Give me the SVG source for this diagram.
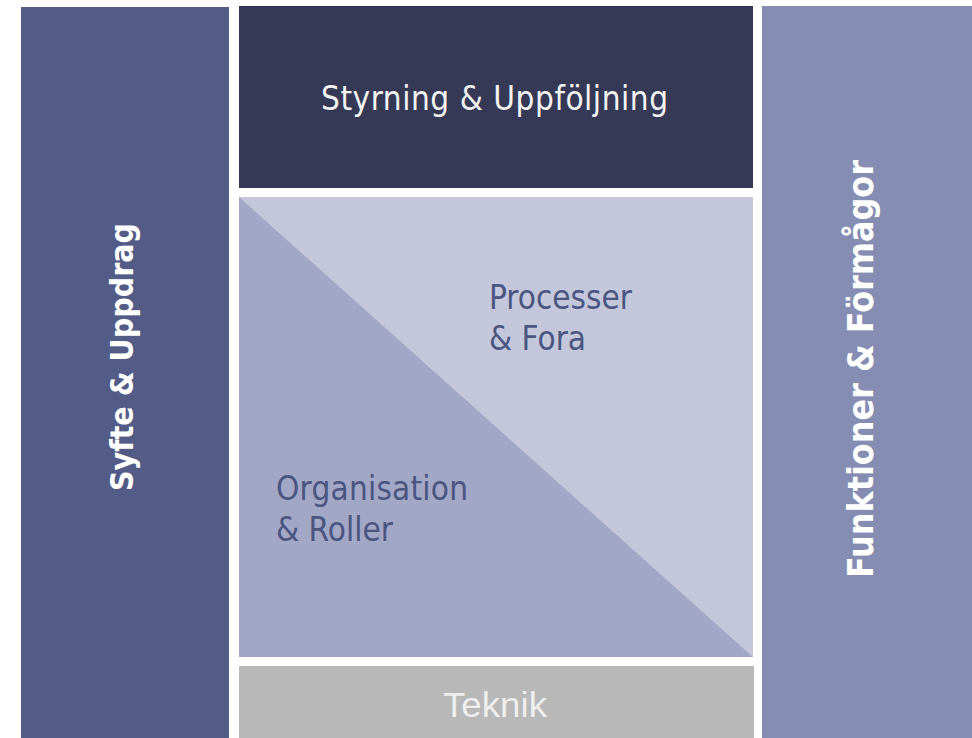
<svg xmlns="http://www.w3.org/2000/svg" width="972" height="738" viewBox="0 0 972 738">
<style>
.lbl{font-family:"DejaVu Sans Condensed","DejaVu Sans",sans-serif;font-size:33px}
.mid{fill:#4A5580}
.light{fill:#F2F2F2}
.vert{font-family:"DejaVu Sans Condensed","DejaVu Sans",sans-serif;font-weight:bold;fill:#FFFFFF}
</style>
<rect width="972" height="738" fill="#FFFFFF"/>
<g id="syfte">
<rect x="21" y="7" width="208" height="731" fill="#535C86"/>
<text class="vert" font-size="32" x="-491" y="133" transform="rotate(-90)" textLength="268" lengthAdjust="spacingAndGlyphs">Syfte &amp; Uppdrag</text>
</g>
<g id="styrning">
<rect x="239" y="6" width="514" height="182" fill="#353955"/>
<text class="lbl light" x="321" y="110" textLength="347" lengthAdjust="spacing">Styrning &amp; Uppföljning</text>
</g>
<g id="mitt">
<rect x="239" y="197" width="514" height="460" fill="#C4C7DB"/>
<polygon points="239,197 753,657 239,657" fill="#A3A7C6"/>
</g>
<g id="processer">
<text class="lbl mid" x="489" y="309">Processer</text>
<text class="lbl mid" x="489" y="350">&amp; Fora</text>
</g>
<g id="organisation">
<text class="lbl mid" x="276" y="500" textLength="192" lengthAdjust="spacing">Organisation</text>
<text class="lbl mid" x="276" y="541">&amp; Roller</text>
</g>
<g id="teknik">
<rect x="239" y="666" width="515" height="72" fill="#B8B8B8"/>
<text x="443" y="717" textLength="104" lengthAdjust="spacingAndGlyphs" font-family="Liberation Sans, Arial, sans-serif" font-size="35" fill="#EEEEEE">Teknik</text>
</g>
<g id="funktioner">
<rect x="762" y="6" width="210" height="732" fill="#868DB2"/>
<text class="vert" font-size="35" x="-578" y="873" transform="rotate(-90)" textLength="418" lengthAdjust="spacingAndGlyphs">Funktioner &amp; Förmågor</text>
</g>
<g id="connectors"></g>
</svg>
